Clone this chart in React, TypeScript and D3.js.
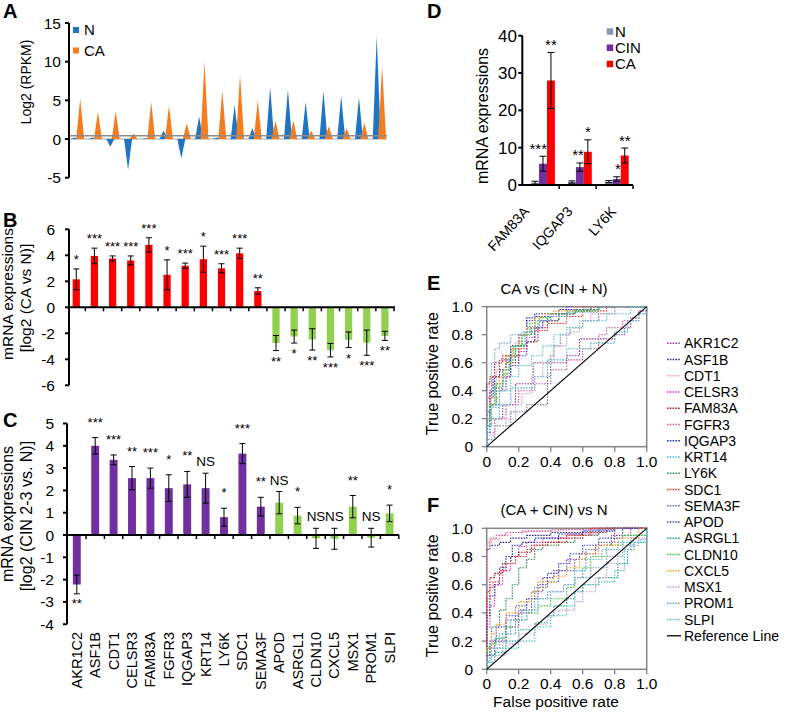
import React from 'react';
import * as d3 from 'd3';

const FONT = '"Liberation Sans", Arial, Helvetica, sans-serif';

// ---------- shared gene list (panels B, C, E, F) ----------
const genes = ['AKR1C2','ASF1B','CDT1','CELSR3','FAM83A','FGFR3','IQGAP3','KRT14','LY6K','SDC1','SEMA3F','APOD','ASRGL1','CLDN10','CXCL5','MSX1','PROM1','SLPI'];
const upCount = 11;

// ---------- Panel A ----------
const aN = [0.2,0.2,-1.0,-4.0,0.1,1.1,-2.5,2.9,0.2,4.4,1.4,6.7,6.4,4.8,6.2,5.6,5.4,13.3];
const aCA = [5.2,3.5,3.6,0.7,4.8,4.3,2.0,10.0,6.3,8.3,5.0,2.4,2.4,1.1,1.7,1.4,2.1,9.4];
const aTicks = [-5,0,5,10,15];

// ---------- Panel B ----------
const bMean = [2.15,3.95,3.75,3.6,4.8,2.5,3.2,3.7,3.0,4.15,1.25,-2.75,-2.25,-2.47,-3.3,-2.5,-2.72,-2.2];
const bErr = [0.8,0.6,0.2,0.35,0.55,1.15,0.2,1.0,0.35,0.4,0.25,0.58,0.5,0.82,0.52,0.6,0.97,0.35];
const bSig = ['*','***','***','***','***','*','***','*','***','***','**','**','*','**','***','*','***','**'];
const bTicks = [-6,-4,-2,0,2,4,6];

// ---------- Panel C ----------
const cMean = [-2.22,4.0,3.37,2.55,2.55,2.1,2.27,2.1,0.8,3.65,1.27,1.45,0.87,-0.15,-0.17,1.27,-0.12,0.97];
const cErr = [0.42,0.37,0.22,0.52,0.45,0.6,0.58,0.67,0.4,0.45,0.42,0.5,0.37,0.45,0.47,0.5,0.42,0.37];
const cSig = ['**','***','***','**','***','*','**','NS','*','***','**','NS','*','NS','NS','**','NS','*'];
const cTicks = [-4,-3,-2,-1,0,1,2,3,4,5];

// ---------- Panel D ----------
const dGroups = ['FAM83A','IQGAP3','LY6K'];
const dSeries = ['N','CIN','CA'];
const dN = [0.6,0.8,0.9];
const dNErr = [0.4,0.3,0.3];
const dCIN = [5.7,4.8,1.6];
const dCINErr = [2.0,1.1,0.6];
const dCA = [28.0,8.9,7.9];
const dCAErr = [7.5,3.2,2.0];
const dCINSig = ['***','**','*'];
const dCASig = ['**','*','**'];
const dTicks = [0,10,20,30,40];

// ---------- Panels E / F (ROC step vertices [fpr, tpr]) ----------
const rocTicks = [0,0.2,0.4,0.6,0.8,1.0];
const rocColors = ['#8a3f98','#2b2b7e','#f5a3b5','#e040d0','#a3242c','#d4589a','#1f2fc0','#4cb6dc','#2e8b50','#e83434','#74749e','#4a4ad2','#1ca08e','#3cc43c','#f0a030','#c4a0d8','#7ba3d5','#5cc4c4'];

const eAKR1C2 = [[0,0],[0.02,0.1],[0.1,0.2],[0.18,0.3],[0.29,0.45],[0.5,0.6],[0.58,0.65],[0.8,0.77],[0.86,0.8],[0.9,0.85],[0.95,0.92],[1,0.97],[1,1]];
const eASF1B = [[0,0],[0.02,0.2],[0.04,0.35],[0.08,0.5],[0.12,0.55],[0.15,0.62],[0.2,0.72],[0.25,0.8],[0.3,0.9],[0.4,0.93],[0.55,0.95],[0.7,0.98],[1,1]];
const eCDT1 = [[0,0],[0.02,0.3],[0.06,0.45],[0.12,0.55],[0.18,0.65],[0.25,0.75],[0.32,0.85],[0.38,0.9],[0.45,0.95],[0.6,0.98],[1,1]];
const eCELSR3 = [[0,0],[0.02,0.15],[0.06,0.3],[0.1,0.4],[0.15,0.5],[0.2,0.6],[0.25,0.68],[0.3,0.78],[0.35,0.85],[0.45,0.9],[0.55,0.95],[1,1]];
const eFAM83A = [[0,0],[0.02,0.45],[0.05,0.5],[0.1,0.6],[0.2,0.65],[0.25,0.72],[0.32,0.75],[0.38,0.85],[0.45,0.9],[0.55,0.95],[0.65,0.97],[1,1]];
const eFGFR3 = [[0,0],[0.05,0.1],[0.12,0.2],[0.2,0.3],[0.3,0.4],[0.4,0.45],[0.5,0.55],[0.6,0.62],[0.7,0.7],[0.75,0.8],[0.85,0.85],[0.95,0.9],[1,0.95],[1,1]];
const eIQGAP3 = [[0,0],[0.02,0.25],[0.05,0.4],[0.08,0.5],[0.12,0.55],[0.15,0.6],[0.2,0.7],[0.25,0.8],[0.3,0.92],[0.45,0.95],[0.6,0.98],[1,1]];
const eKRT14 = [[0,0],[0.02,0.1],[0.08,0.2],[0.15,0.3],[0.3,0.42],[0.38,0.5],[0.5,0.62],[0.65,0.7],[0.8,0.74],[0.88,0.82],[0.95,0.9],[1,0.95],[1,1]];
const eLY6K = [[0,0],[0.02,0.2],[0.06,0.3],[0.1,0.45],[0.15,0.55],[0.18,0.6],[0.22,0.72],[0.28,0.8],[0.33,0.85],[0.45,0.9],[0.55,0.95],[0.7,0.98],[1,1]];
const eSDC1 = [[0,0],[0.03,0.35],[0.08,0.5],[0.12,0.62],[0.2,0.65],[0.25,0.7],[0.3,0.75],[0.38,0.83],[0.5,0.88],[0.6,0.93],[0.75,0.97],[1,1]];
const eSEMA3F = [[0,0],[0.05,0.05],[0.15,0.15],[0.25,0.25],[0.38,0.3],[0.4,0.5],[0.42,0.65],[0.46,0.72],[0.52,0.8],[0.6,0.85],[0.7,0.9],[0.8,0.95],[1,1]];
const eAPOD = [[0,0],[0.03,0.15],[0.08,0.3],[0.12,0.4],[0.15,0.5],[0.2,0.58],[0.25,0.65],[0.3,0.75],[0.35,0.85],[0.4,0.9],[0.5,0.95],[1,1]];
const eASRGL1 = [[0,0],[0.02,0.2],[0.05,0.3],[0.1,0.42],[0.14,0.52],[0.18,0.62],[0.24,0.72],[0.3,0.82],[0.38,0.9],[0.5,0.93],[0.65,0.97],[1,1]];
const eCLDN10 = [[0,0],[0.02,0.15],[0.06,0.3],[0.1,0.45],[0.14,0.55],[0.17,0.65],[0.22,0.72],[0.27,0.8],[0.33,0.88],[0.4,0.92],[0.55,0.95],[0.7,0.97],[1,1]];
const eCXCL5 = [[0,0],[0.03,0.2],[0.08,0.35],[0.12,0.5],[0.16,0.6],[0.2,0.7],[0.25,0.8],[0.3,0.85],[0.35,0.92],[0.42,0.95],[0.55,0.97],[1,1]];
const eMSX1 = [[0,0],[0.05,0.08],[0.12,0.15],[0.18,0.2],[0.22,0.3],[0.28,0.38],[0.35,0.5],[0.42,0.6],[0.5,0.72],[0.52,0.8],[0.58,0.82],[0.65,0.9],[0.8,0.95],[1,1]];
const ePROM1 = [[0,0],[0.03,0.4],[0.05,0.6],[0.08,0.7],[0.15,0.74],[0.22,0.8],[0.27,0.82],[0.33,0.86],[0.4,0.9],[0.5,0.93],[0.7,0.96],[1,1]];
const eSLPI = [[0,0],[0.03,0.15],[0.08,0.28],[0.15,0.4],[0.2,0.5],[0.28,0.58],[0.35,0.65],[0.42,0.72],[0.5,0.8],[0.6,0.85],[0.75,0.9],[0.9,0.95],[1,1]];

const fAKR1C2 = [[0,0],[0.05,0.1],[0.12,0.2],[0.2,0.3],[0.28,0.4],[0.35,0.55],[0.42,0.65],[0.5,0.7],[0.58,0.78],[0.68,0.82],[0.78,0.88],[0.9,0.95],[1,1]];
const fASF1B = [[0,0],[0.02,0.85],[0.08,0.88],[0.15,0.9],[0.25,0.93],[0.4,0.95],[0.6,0.97],[0.8,0.99],[1,1]];
const fCDT1 = [[0,0],[0.03,0.89],[0.08,0.92],[0.15,0.95],[0.25,0.97],[0.45,0.98],[0.7,0.99],[1,1]];
const fCELSR3 = [[0,0],[0.02,0.3],[0.05,0.45],[0.1,0.6],[0.15,0.7],[0.2,0.8],[0.25,0.87],[0.35,0.9],[0.5,0.93],[0.7,0.96],[1,1]];
const fFAM83A = [[0,0],[0.02,0.55],[0.05,0.65],[0.1,0.68],[0.15,0.75],[0.2,0.8],[0.28,0.83],[0.35,0.88],[0.45,0.9],[0.6,0.93],[0.75,0.97],[1,1]];
const fFGFR3 = [[0,0],[0.02,0.9],[0.06,0.93],[0.12,0.95],[0.22,0.97],[0.4,0.98],[0.6,0.99],[1,1]];
const fIQGAP3 = [[0,0],[0.02,0.38],[0.05,0.52],[0.08,0.6],[0.12,0.72],[0.16,0.8],[0.22,0.88],[0.3,0.9],[0.45,0.93],[0.6,0.96],[0.8,0.98],[1,1]];
const fKRT14 = [[0,0],[0.02,0.05],[0.08,0.15],[0.15,0.25],[0.22,0.35],[0.3,0.42],[0.38,0.5],[0.48,0.55],[0.55,0.6],[0.62,0.7],[0.72,0.78],[0.82,0.85],[0.9,0.9],[1,0.95],[1,1]];
const fLY6K = [[0,0],[0.03,0.15],[0.08,0.3],[0.12,0.42],[0.16,0.5],[0.2,0.6],[0.25,0.72],[0.3,0.78],[0.35,0.85],[0.45,0.88],[0.55,0.9],[0.7,0.95],[1,1]];
const fSDC1 = [[0,0],[0.02,0.5],[0.04,0.58],[0.08,0.62],[0.12,0.7],[0.18,0.75],[0.25,0.8],[0.3,0.85],[0.38,0.88],[0.5,0.9],[0.65,0.95],[1,1]];
const fSEMA3F = [[0,0],[0.05,0.1],[0.12,0.22],[0.18,0.35],[0.25,0.45],[0.3,0.5],[0.38,0.58],[0.45,0.62],[0.55,0.7],[0.62,0.78],[0.7,0.85],[0.8,0.9],[1,1]];
const fAPOD = [[0,0],[0.02,0.1],[0.06,0.2],[0.12,0.3],[0.2,0.38],[0.25,0.42],[0.32,0.5],[0.38,0.6],[0.45,0.68],[0.52,0.75],[0.6,0.82],[0.7,0.88],[0.85,0.93],[1,1]];
const fASRGL1 = [[0,0],[0.05,0.05],[0.12,0.12],[0.2,0.2],[0.3,0.28],[0.38,0.33],[0.42,0.38],[0.5,0.45],[0.55,0.5],[0.6,0.55],[0.7,0.6],[0.82,0.65],[0.88,0.75],[0.92,0.85],[1,0.9],[1,1]];
const fCLDN10 = [[0,0],[0.02,0.12],[0.06,0.18],[0.12,0.22],[0.18,0.3],[0.25,0.35],[0.32,0.4],[0.4,0.45],[0.5,0.5],[0.55,0.58],[0.6,0.65],[0.65,0.72],[0.75,0.8],[0.85,0.88],[1,0.95],[1,1]];
const fCXCL5 = [[0,0],[0.03,0.15],[0.06,0.25],[0.12,0.32],[0.2,0.4],[0.28,0.48],[0.32,0.55],[0.42,0.62],[0.5,0.66],[0.58,0.72],[0.62,0.78],[0.7,0.82],[0.82,0.88],[0.95,0.93],[1,1]];
const fMSX1 = [[0,0],[0.05,0.05],[0.12,0.1],[0.2,0.18],[0.3,0.25],[0.38,0.32],[0.45,0.38],[0.55,0.42],[0.6,0.48],[0.68,0.55],[0.75,0.65],[0.82,0.75],[0.9,0.85],[1,0.93],[1,1]];
const fPROM1 = [[0,0],[0.03,0.08],[0.1,0.15],[0.18,0.25],[0.25,0.35],[0.32,0.42],[0.4,0.5],[0.48,0.55],[0.55,0.6],[0.65,0.65],[0.75,0.72],[0.85,0.8],[0.95,0.88],[1,0.92],[1,1]];
const fSLPI = [[0,0],[0.03,0.05],[0.1,0.1],[0.2,0.15],[0.3,0.2],[0.4,0.3],[0.5,0.38],[0.55,0.45],[0.6,0.55],[0.7,0.6],[0.8,0.62],[0.86,0.7],[0.9,0.85],[1,0.9],[1,1]];

const eCurves = [eAKR1C2,eASF1B,eCDT1,eCELSR3,eFAM83A,eFGFR3,eIQGAP3,eKRT14,eLY6K,eSDC1,eSEMA3F,eAPOD,eASRGL1,eCLDN10,eCXCL5,eMSX1,ePROM1,eSLPI];
const fCurves = [fAKR1C2,fASF1B,fCDT1,fCELSR3,fFAM83A,fFGFR3,fIQGAP3,fKRT14,fLY6K,fSDC1,fSEMA3F,fAPOD,fASRGL1,fCLDN10,fCXCL5,fMSX1,fPROM1,fSLPI];

const T = ({ x, y, size = 15, anchor = 'start', weight = 'normal', rotate = 0, sx = 1, fill = '#000', children }: any) => (
  <text
    transform={`translate(${x},${y})${sx !== 1 ? ` scale(${sx},1)` : ''}${rotate ? ` rotate(${rotate})` : ''}`}
    fontSize={size} textAnchor={anchor} fontWeight={weight} fontFamily={FONT} fill={fill}
  >{children}</text>
);

const ErrBar = ({ x, y1, y2, w = 3 }: any) => (
  <g stroke="#000" strokeWidth={1}>
    <line x1={x} x2={x} y1={y1} y2={y2} />
    <line x1={x - w} x2={x + w} y1={y1} y2={y1} />
    <line x1={x - w} x2={x + w} y1={y2} y2={y2} />
  </g>
);

function RocPanel({ curves, top, bottom, title, titleY, letterY, showXLabel }: any) {
  const x = d3.scaleLinear().domain([0, 1]).range([486.7, 646.7]);
  const y = d3.scaleLinear().domain([0, 1]).range([bottom, top]);
  const line = d3.line<number[]>().x(d => x(d[0])).y(d => y(d[1])).curve(d3.curveStepBefore);
  return (
    <g>
      <T x={427} y={letterY} size={20} weight="bold">{title[0]}</T>
      <T x={554} y={titleY} size={15} anchor="middle">{title[1]}</T>
      <rect x={x(0)} y={y(1)} width={x(1) - x(0)} height={y(0) - y(1)} fill="none" stroke="#858585" strokeWidth={1.5} />
      {rocTicks.map(t => (
        <g key={'y' + t}>
          <line x1={x(0) - 5} x2={x(0)} y1={y(t)} y2={y(t)} stroke="#858585" strokeWidth={1.3} />
          <T x={473} y={y(t) + 5.5} size={15.5} anchor="end">{t === 0 ? '0' : t.toFixed(1)}</T>
          <line x1={x(t)} x2={x(t)} y1={y(0)} y2={y(0) + 5} stroke="#858585" strokeWidth={1.3} />
          <T x={x(t)} y={y(0) + 20} size={15.5} anchor="middle">{t === 0 ? '0' : t.toFixed(1)}</T>
        </g>
      ))}
      {curves.map((c: number[][], i: number) => (
        <path key={i} d={line(c) as string} fill="none" stroke={rocColors[i]} strokeWidth={1.1} strokeDasharray="1.6,1.2" />
      ))}
      <line x1={x(0)} y1={y(0)} x2={x(1)} y2={y(1)} stroke="#000" strokeWidth={1.1} />
      <T x={438} y={(top + bottom) / 2 - 3} size={16} anchor="middle" rotate={-90}>True positive rate</T>
      {showXLabel && <T x={556} y={707} size={15.5} anchor="middle">False positive rate</T>}
    </g>
  );
}

export default function App() {
  // ----- A -----
  const xA = d3.scaleBand<number>().domain(d3.range(aN.length)).range([68.6, 388.3]);
  const yA = d3.scaleLinear().domain([-5, 15]).range([177.7, 23]);
  const spikes = (vals: number[], off: number) => vals.map((v, i) => {
    const cx = (xA(i) as number) + xA.bandwidth() / 2 + off;
    return (d3.line()([[cx - 4, yA(0)], [cx, yA(v)], [cx + 4, yA(0)]]) as string) + 'Z';
  }).join('');

  // ----- B -----
  const xB = d3.scaleBand<string>().domain(genes).range([67.2, 394]);
  const yB = d3.scaleLinear().domain([-6, 6]).range([385.3, 229.3]);
  // ----- C -----
  const xC = d3.scaleBand<string>().domain(genes).range([67.6, 398.8]);
  const yC = d3.scaleLinear().domain([-4, 5]).range([624.2, 423.5]);
  // ----- D -----
  const xD = d3.scaleBand<string>().domain(dGroups).range([522.3, 633]);
  const xDi = d3.scaleBand<string>().domain(dSeries).range([8.8, 32.6]);
  const yD = d3.scaleLinear().domain([0, 40]).range([185, 35.7]);
  const xDLabel = d3.scalePoint<string>().domain(dGroups).range([530, 617]);
  const dVals: Record<string, number[]> = { N: dN, CIN: dCIN, CA: dCA };
  const dErrs: Record<string, number[]> = { N: dNErr, CIN: dCINErr, CA: dCAErr };
  const dColor: Record<string, string> = { N: '#8497b0', CIN: '#7030a0', CA: '#ff0000' };

  const red = '#ff0000', green = '#92d050', purple = '#7030a0';

  return (
    <svg width={800} height={713} style={{ position: 'absolute', left: 0, top: 0, background: '#fff' }}>
      {/* ================= Panel A ================= */}
      <T x={3} y={18} size={20} weight="bold">A</T>
      <line x1={70} x2={387} y1={yA(0)} y2={yA(0)} stroke="#c4c4c4" strokeWidth={1.6} />
      <path d={spikes(aN, -2.7)} fill="#1f74c4" />
      <path d={spikes(aCA, 2.7)} fill="#f47d20" />
      <line x1={70} x2={387} y1={yA(0.43)} y2={yA(0.43)} stroke="#8c8c8c" strokeWidth={1.4} />
      <line x1={69} x2={69} y1={yA(15)} y2={yA(-5)} stroke="#000" strokeWidth={2} />
      {aTicks.map(t => (
        <g key={t}>
          <line x1={65} x2={69} y1={yA(t)} y2={yA(t)} stroke="#000" strokeWidth={2} />
          <T x={61} y={yA(t) + 5.5} size={15.5} anchor="end">{t}</T>
        </g>
      ))}
      <T x={31} y={82} size={14} anchor="middle" rotate={-90}>Log2 (RPKM)</T>
      <rect x={73} y={27} width={6} height={6} fill="#1f74c4" />
      <T x={84} y={35} size={15}>N</T>
      <rect x={73} y={47.5} width={6} height={6} fill="#f47d20" />
      <T x={84} y={55.5} size={15}>CA</T>

      {/* ================= Panel B ================= */}
      <T x={3} y={227} size={20} weight="bold">B</T>
      {genes.map((g, i) => {
        const bw = xB.bandwidth();
        const x0 = (xB(g) as number) + bw * 0.3;
        const cx = (xB(g) as number) + bw / 2;
        const m = bMean[i], e = bErr[i];
        const above = m + e >= 0;
        return (
          <g key={g}>
            <rect x={x0} width={bw * 0.4} y={yB(Math.max(0, m))} height={Math.abs(yB(m) - yB(0))} fill={i < upCount ? red : green} />
            <ErrBar x={cx} y1={yB(m + e)} y2={yB(m - e)} />
            <T x={cx} y={above ? yB(m + e) - 5 : yB(m - e) + 15} size={13} anchor="middle">{bSig[i]}</T>
          </g>
        );
      })}
      <line x1={69} x2={395} y1={yB(0)} y2={yB(0)} stroke="#000" strokeWidth={2} />
      {genes.map((g) => (
        <line key={g} x1={(xB(g) as number) + xB.bandwidth()} x2={(xB(g) as number) + xB.bandwidth()} y1={yB(0)} y2={yB(0) + 4} stroke="#000" strokeWidth={1.5} />
      ))}
      <line x1={69} x2={69} y1={yB(6)} y2={yB(-6)} stroke="#000" strokeWidth={2} />
      {bTicks.map(t => (
        <g key={t}>
          <line x1={65} x2={69} y1={yB(t)} y2={yB(t)} stroke="#000" strokeWidth={2} />
          <T x={55} y={yB(t) + 5.5} size={15.5} anchor="end">{t}</T>
        </g>
      ))}
      <T x={13} y={294} size={15.5} anchor="middle" rotate={-90}>mRNA expressions</T>
      <T x={31} y={298} size={15.5} anchor="middle" rotate={-90}>[log2 (CA vs N)]</T>

      {/* ================= Panel C ================= */}
      <T x={3} y={427} size={20} weight="bold">C</T>
      {genes.map((g, i) => {
        const bw = xC.bandwidth();
        const x0 = (xC(g) as number) + bw * 0.285;
        const cx = (xC(g) as number) + bw / 2;
        const m = cMean[i], e = cErr[i];
        const above = m + e >= 0;
        const ns = cSig[i] === 'NS';
        return (
          <g key={g}>
            <rect x={x0} width={bw * 0.43} y={yC(Math.max(0, m))} height={Math.abs(yC(m) - yC(0))} fill={i < upCount ? purple : green} />
            <ErrBar x={cx} y1={yC(m + e)} y2={yC(m - e)} />
            <T x={cx} y={above ? yC(m + e) - (ns ? 7 : 11) : yC(m - e) + 14} size={ns ? 13.5 : 13} anchor="middle">{cSig[i]}</T>
            <T x={cx + 5} y={632} size={14.5} anchor="end" rotate={-90}>{g}</T>
          </g>
        );
      })}
      <line x1={67} x2={399} y1={yC(0)} y2={yC(0)} stroke="#000" strokeWidth={2} />
      {genes.map((g) => (
        <line key={g} x1={(xC(g) as number) + xC.bandwidth()} x2={(xC(g) as number) + xC.bandwidth()} y1={yC(0)} y2={yC(0) + 4} stroke="#000" strokeWidth={1.5} />
      ))}
      <line x1={67} x2={67} y1={yC(5)} y2={yC(-4)} stroke="#000" strokeWidth={2} />
      {cTicks.map(t => (
        <g key={t}>
          <line x1={63} x2={67} y1={yC(t)} y2={yC(t)} stroke="#000" strokeWidth={2} />
          <T x={54} y={yC(t) + 5.5} size={15.5} anchor="end">{t}</T>
        </g>
      ))}
      <T x={13} y={514} size={16} anchor="middle" rotate={-90}>mRNA expressions</T>
      <T x={32} y={516} size={16} anchor="middle" rotate={-90}>[log2 (CIN 2-3 vs. N)]</T>

      {/* ================= Panel D ================= */}
      <T x={427} y={18} size={20} weight="bold">D</T>
      {dGroups.map((g, gi) => (
        <g key={g}>
          {dSeries.map(s => {
            const x0 = (xD(g) as number) + (xDi(s) as number);
            const bw = xDi.bandwidth();
            const v = dVals[s][gi], e = dErrs[s][gi];
            return (
              <g key={s}>
                <rect x={x0} width={bw} y={yD(v)} height={yD(0) - yD(v)} fill={dColor[s]} />
                <ErrBar x={x0 + bw / 2} y1={yD(v + e)} y2={yD(v - e)} w={3.5} />
              </g>
            );
          })}
          <T x={(xD(g) as number) + (xDi('CIN') as number) + xDi.bandwidth()} y={yD(dCIN[gi] + dCINErr[gi]) - 2.5} size={15} anchor="end">{dCINSig[gi]}</T>
          <T x={(xD(g) as number) + (xDi('CA') as number) + xDi.bandwidth() / 2} y={yD(dCA[gi] + dCAErr[gi]) - 2.5} size={15} anchor="middle">{dCASig[gi]}</T>
          <T x={xDLabel(g)} y={212} size={14} anchor="end" rotate={-48}>{g}</T>
        </g>
      ))}
      <line x1={522.3} x2={633} y1={yD(0)} y2={yD(0)} stroke="#000" strokeWidth={2} />
      {dGroups.map(g => (
        <line key={g} x1={(xD(g) as number) + xD.bandwidth()} x2={(xD(g) as number) + xD.bandwidth()} y1={yD(0)} y2={yD(0) + 4} stroke="#000" strokeWidth={1.5} />
      ))}
      <line x1={522.3} x2={522.3} y1={yD(40)} y2={yD(0)} stroke="#000" strokeWidth={2} />
      {dTicks.map(t => (
        <g key={t}>
          <line x1={518.3} x2={522.3} y1={yD(t)} y2={yD(t)} stroke="#000" strokeWidth={2} />
          <T x={517} y={yD(t) + 6} size={17} anchor="end">{t}</T>
        </g>
      ))}
      <T x={488} y={116} size={16} anchor="middle" rotate={-90}>mRNA expressions</T>
      {dSeries.map((s, i) => (
        <g key={s}>
          <rect x={606.7} y={28.3 + i * 16.2} width={6.5} height={6.5} fill={dColor[s]} />
          <T x={615} y={37 + i * 16.2} size={15}>{s}</T>
        </g>
      ))}

      {/* ================= Panels E / F ================= */}
      <RocPanel curves={eCurves} top={306.7} bottom={446.7} title={['E', 'CA vs (CIN + N)']} titleY={294} letterY={290} showXLabel={false} />
      <RocPanel curves={fCurves} top={528.3} bottom={669.3} title={['F', '(CA + CIN) vs N']} titleY={515} letterY={512} showXLabel={true} />

      {/* ROC legend */}
      {genes.map((g, i) => (
        <g key={g}>
          <line x1={667} x2={681} y1={343.3 + i * 16.25} y2={343.3 + i * 16.25} stroke={rocColors[i]} strokeWidth={1.4} strokeDasharray="1.6,1.2" />
          <T x={684} y={348.3 + i * 16.25} size={14}>{g}</T>
        </g>
      ))}
      <line x1={667} x2={681} y1={343.3 + 18 * 16.25} y2={343.3 + 18 * 16.25} stroke="#000" strokeWidth={1.3} />
      <T x={684} y={348.3 + 18 * 16.25} size={14}>Reference Line</T>
    </svg>
  );
}
